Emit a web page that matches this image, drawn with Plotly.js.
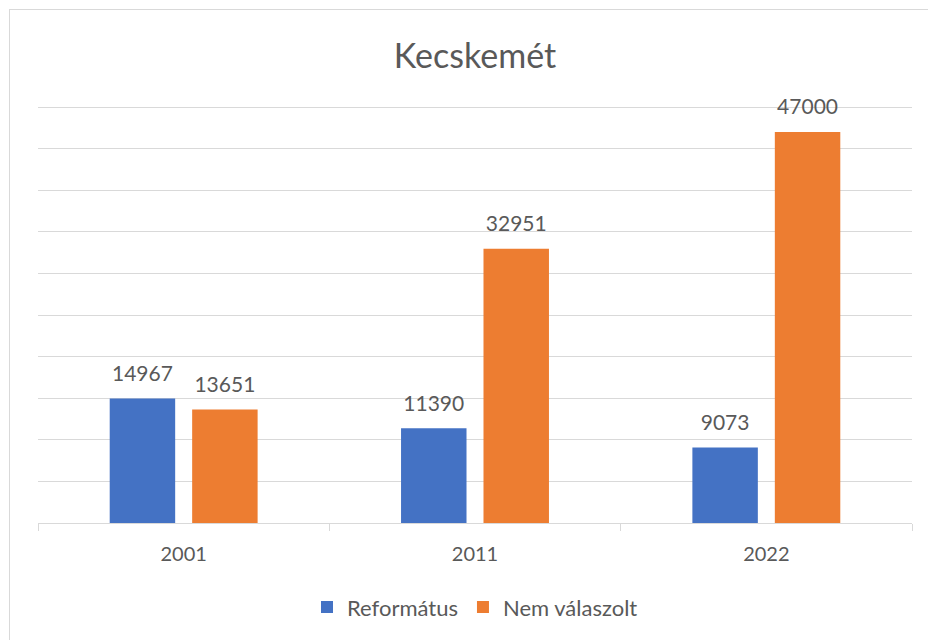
<!DOCTYPE html>
<html><head><meta charset="utf-8">
<script src="https://cdn.plot.ly/plotly-3.0.1.min.js"></script>
<style>
html,body{margin:0;padding:0;background:#fff;}
#frame{position:absolute;left:9px;top:9px;width:1000px;height:700px;border:1px solid #d9d9d9;pointer-events:none;z-index:5;}
#chart{position:absolute;left:0;top:0;width:928px;height:640px;}
</style></head>
<body>
<div id="frame"></div>
<div id="chart"></div>
<script>
const years = ['2001', '2011', '2022'];
const reformatus = [14967, 11390, 9073];
const nemValaszolt = [13651, 32951, 47000];
const seriesNames = ['Református', 'Nem válaszolt'];
const colors = ['#4472C4', '#ED7D31'];
const FONT = 'Lato, "Open Sans", sans-serif';
const TXT = '#595959';

const series = [reformatus, nemValaszolt];
const traces = [];
series.forEach((vals, i) => {
  traces.push({
    type: 'bar', x: years, y: vals, name: seriesNames[i],
    marker: {color: colors[i]}, offsetgroup: 'g' + i, hoverinfo: 'skip'
  });
});
series.forEach((vals, i) => {
  traces.push({
    type: 'scatter', mode: 'markers+text', x: years, y: vals,
    text: vals.map(String), textposition: 'top center',
    textfont: {family: FONT, size: 21, color: TXT},
    marker: {size: 18, opacity: 0},
    offsetgroup: 'g' + i, showlegend: false, hoverinfo: 'skip', cliponaxis: false
  });
});

const layout = {
  width: 928, height: 640,
  paper_bgcolor: 'rgba(0,0,0,0)', plot_bgcolor: 'rgba(0,0,0,0)',
  margin: {l: 38, r: 16, t: 100, b: 117},
  barmode: 'group', bargap: 0.434, bargroupgap: 0.206,
  scattermode: 'group', scattergap: 0.434,
  font: {family: FONT, color: TXT},
  title: {text: 'Kecskemét', xref: 'paper', x: 0.5, y: 0.913, yanchor: 'middle',
          font: {family: FONT, size: 34, color: TXT}},
  xaxis: {
    type: 'category', tickson: 'boundaries', ticks: 'outside', ticklen: 7,
    tickcolor: '#d9d9d9', showline: true, linecolor: '#d9d9d9', linewidth: 1,
    showgrid: false, ticklabelstandoff: 13,
    tickfont: {family: FONT, size: 20, color: TXT}
  },
  yaxis: {
    range: [0, 50841], dtick: 5000, showticklabels: false, showgrid: true,
    gridcolor: '#d9d9d9', gridwidth: 1, zeroline: false, fixedrange: true
  },
  legend: {orientation: 'h', x: 0.5, xanchor: 'center', y: -0.199, yanchor: 'middle',
           font: {family: FONT, size: 22, color: TXT}, itemwidth: 30},
  showlegend: true
};
Plotly.newPlot('chart', traces, layout, {displayModeBar: false, staticPlot: true});
</script>
</body></html>
